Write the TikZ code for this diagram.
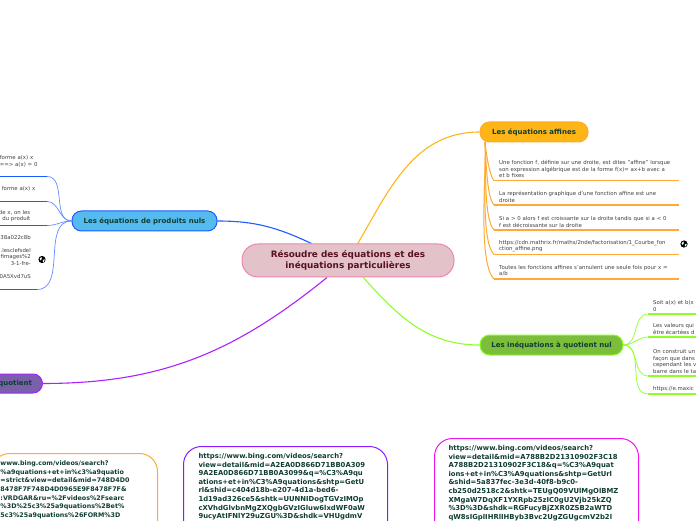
\documentclass[tikz,border=0pt]{standalone}
\usepackage{fontspec}
\setmainfont{DejaVu Sans}
\usetikzlibrary{backgrounds}
\definecolor{mapink}{RGB}{227,195,201}
\definecolor{mapinkd}{RGB}{238,133,174}
\definecolor{maorange}{RGB}{255,181,21}
\definecolor{maoranged}{RGB}{255,170,50}
\definecolor{mablue}{RGB}{85,187,238}
\definecolor{mabluel}{RGB}{30,91,255}
\definecolor{magreen}{RGB}{125,189,60}
\definecolor{magreenl}{RGB}{140,255,40}
\definecolor{mapurple}{RGB}{122,95,170}
\definecolor{mapurplel}{RGB}{170,34,255}
\definecolor{mamagenta}{RGB}{238,20,238}
\definecolor{mainkd}{RGB}{15,61,51}
\definecolor{maroon}{RGB}{90,16,32}
\tikzset{
  topic/.style={draw,line width=1pt,rounded corners=9.5pt,minimum height=20pt,inner sep=0pt,
    text=mainkd,font=\fontsize{7}{8}\selectfont\bfseries},
  leaf/.style={inner xsep=5pt,inner ysep=2.5pt,align=left,anchor=south west,text=black!75,
    font=\fontsize{5.4}{6.5}\selectfont},
  leafl/.style={leaf,anchor=south east},
  urlbox/.style={draw,line width=1pt,rounded corners=18pt,anchor=north west,align=left,
    text=mainkd,text depth=90pt,font=\fontsize{6.85}{8.57}\selectfont\bfseries},
  link/.style={line width=1.1pt},
  twig/.style={line width=.7pt},
  rule/.style={line width=1.3pt}
}
\newcommand{\globeat}[2]{%
  \fill[black] (#1,#2) circle (3.6pt);
  \fill[white] (#1-2.4,#2+.6) -- (#1-.6,#2+2.6) -- (#1-.2,#2+1) -- (#1-1.2,#2-1) -- cycle;
  \fill[white] (#1+.8,#2-.4) -- (#1+2.8,#2+.2) -- (#1+2,#2-2) -- (#1+1,#2-2.6) -- cycle;
}
\begin{document}
\begin{tikzpicture}[x=1pt,y=1pt]
  \useasboundingbox (0,0) rectangle (696,520);
  \clip (0,0) rectangle (696,520);
  % Main topics
  \node[draw=mapinkd,fill=mapink,line width=1pt,rounded corners=16pt,minimum width=212pt,minimum height=33pt,
    inner sep=0pt,align=center,text=maroon,font=\fontsize{8.85}{11}\selectfont\bfseries] (root) at (348,259.5)
    {Résoudre des équations et des\\inéquations particulières};
  \node[topic,draw=maoranged,fill=maorange,minimum width=108pt] (affines) at (534,388) {Les équations affines};
  \node[topic,draw=mabluel,fill=mablue,minimum width=145pt] (produits) at (144.5,299) {Les équations de produits nuls};
  \node[topic,draw=magreenl,fill=magreen,minimum width=143pt] (quotient) at (551.5,175) {Les inéquations à quotient nul};
  \node[topic,draw=mapurplel,fill=mapurple,anchor=east,minimum height=19pt,text width=70pt,align=right,inner xsep=10.5pt] (quot) at (43,136.5) {quotient};
  % Leaves of the affine topic
  \node[leaf,text width=175pt] (aff1) at (494,339.5) {Une fonction f, définie sur une droite, est dites "affine" lorsque\\son expression algébrique est de la forme f(x)= ax+b avec a\\et b fixes};
  \node[leaf,text width=175pt] (aff2) at (494,315) {La représentation graphique d'une fonction affine est une\\droite};
  \node[leaf,text width=175pt] (aff3) at (494,290) {Si a > 0 alors f est croissante sur la droite tandis que si a < 0\\f est décroissante sur la droite};
  \node[leaf,text width=175pt] (aff4) at (494,265.5) {https://cdn.mathrix.fr/maths/2nde/factorisation/1\_Courbe\_fon\\ction\_affine.png};
  \node[leaf,text width=175pt] (aff5) at (494,241) {Toutes les fonctions affines s'annulent une seule fois pour x =\\a/b};
  % Leaves of the quotient topic
  \node[leaf,text width=80pt] (quo1) at (648,206) {Soit a(x) et b(x\\0};
  \node[leaf,text width=80pt] (quo2) at (648,183) {Les valeurs qui\\être écartées d};
  \node[leaf,text width=80pt] (quo3) at (648,144) {On construit un\\façon que dans\\cependant les v\\barre dans le ta};
  \node[leaf,text width=80pt] (quo4) at (648,126) {https://e.maxic};
  % Leaves of the product topic
  \node[leafl,text width=44pt,inner xsep=3pt,inner ysep=9.5pt] (pro1) at (47,343.5) {forme a(x) x\\==> a(x) = 0};
  \node[leafl,text width=42pt,inner xsep=3pt,inner ysep=10.5pt] (pro2) at (47,318.5) {forme a(x) x};
  \node[leafl,text width=40pt,inner xsep=16.5pt,inner ysep=3.5pt,align=right] (pro3) at (47,294.5) {de x, on les\\du produit};
  \node[leafl,text width=45pt,inner xsep=6pt,inner ysep=11pt,align=right] (pro4) at (37,230.5)
    {38a022c8b\\[6.4pt].lesclefsdel\\fimages\%2\\3-1-fre-\hspace*{9pt}\\[6.4pt]0A5Xvd7uS};
  % Underlines
  \foreach \n in {aff1,aff2,aff3,aff4,aff5}{
    \draw[rule,maoranged] (\n.south west) -- (\n.south east);
  }
  \foreach \n in {quo1,quo2,quo3,quo4}{
    \draw[rule,magreenl] (\n.south west) -- (\n.south east);
  }
  \foreach \n in {pro1,pro2,pro3,pro4}{
    \draw[rule,mabluel] (\n.south west) -- (\n.south east);
  }
  % Url boxes running off the page
  \node[urlbox,draw=maoranged,inner xsep=9pt,inner ysep=7.5pt,text width=148pt,font=\fontsize{6.35}{8.57}\selectfont\bfseries] (urlleft) at (-9,67)
    {www.bing.com/videos/search?\\\%a9quations+et+in\%c3\%a9quatio\\=strict\&view=detail\&mid=748D4D0\\8478F7F748D4D0965E9F8478F7F\&\\:VRDGAR\&ru=\%2Fvideos\%2Fsearc\\\%3D\%25c3\%25a9quations\%2Bet\%\\5c3\%25a9quations\%26FORM\%3D};
  \node[urlbox,draw=mapurplel!80!blue,inner xsep=15pt,inner ysep=7pt,text width=174pt] (urlmid) at (183,74)
    {https://www.bing.com/videos/search?\\view=detail\&mid=A2EA0D866D71BB0A309\\9A2EA0D866D71BB0A3099\&q=\%C3\%A9qu\\ations+et+in\%C3\%A9quations\&shtp=GetU\\rl\&shid=c404d18b-e207-4d1a-bed6-\\1d19ad326ce5\&shtk=UUNNIDogTGVzIMOp\\cXVhdGlvbnMgZXQgbGVzIGluw6lxdWF0aW\\9ucyAtIFNlY29uZGU\%3D\&shdk=VHUgdmV};
  \node[urlbox,draw=mamagenta,inner xsep=14pt,inner ysep=7pt,text width=176pt] (urlright) at (434,82)
    {https://www.bing.com/videos/search?\\view=detail\&mid=A788B2D21310902F3C18\\A788B2D21310902F3C18\&q=\%C3\%A9quat\\ions+et+in\%C3\%A9quations\&shtp=GetUrl\\\&shid=5a837fec-3e3d-40f8-b9c0-\\cb250d2518c2\&shtk=TEUgQ09VUlMgOlBMZ\\XMgaW7DqXF1YXRpb25zIC0gU2Vjb25kZQ\\\%3D\%3D\&shdk=RGFucyBjZXR0ZSB2aWTD\\qW8sIGplIHRlIHByb3Bvc2UgZGUgcmV2b2l};
  % Globes
  \globeat{42}{260.5}
  \globeat{684}{276}
  % Connectors
  \begin{pgfonlayer}{background}
    \draw[link,maorange] (root) to[out=60,in=180] (affines);
    \draw[link,mabluel] (root) to[out=155,in=0] (produits);
    \draw[link,magreenl] (root) to[out=-48,in=180] (quotient);
    \draw[link,mapurplel] (root) to[out=219,in=0] (quot);
    \coordinate (affroot) at (485,378);
    \foreach \n in {aff1,aff2,aff3,aff4,aff5}{
      \draw[twig,maoranged,line width=1pt] (affroot) to[out=-85,in=135,looseness=.45] (\n.south west);
    }
    \foreach \n in {quo1,quo2,quo3,quo4}{
      \draw[twig,magreenl] (quotient.east) to[out=0,in=180] (\n.south west);
    }
    \foreach \n in {pro1,pro2,pro3,pro4}{
      \draw[twig,mabluel!70] (produits.west) to[out=180,in=0] (\n.south east);
    }
  \end{pgfonlayer}
\end{tikzpicture}
\end{document}
